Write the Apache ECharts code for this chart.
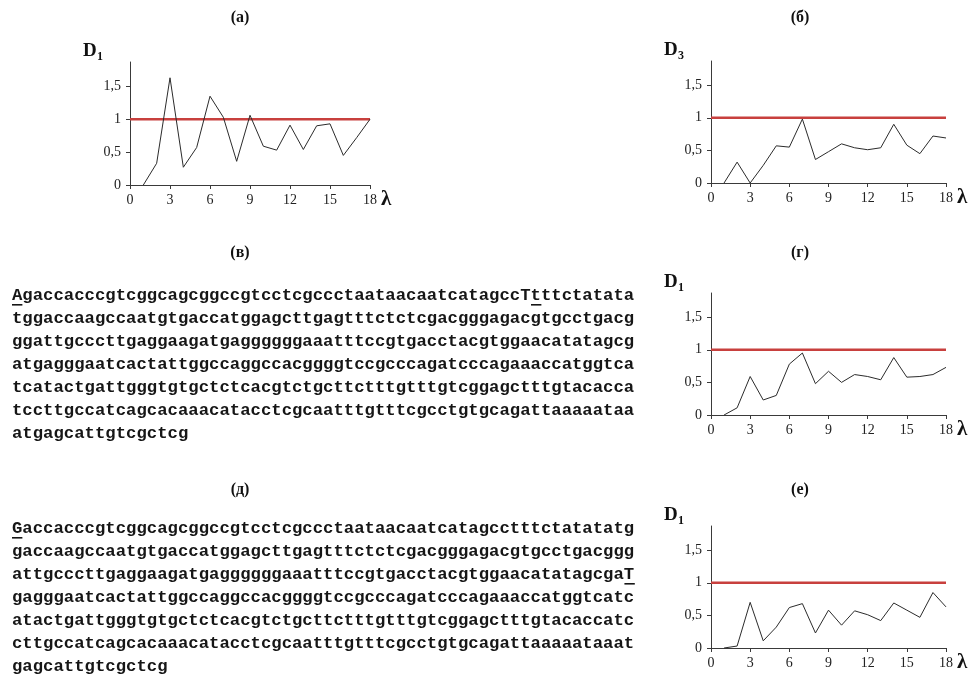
<!DOCTYPE html>
<html>
<head>
<meta charset="utf-8">
<script src="https://cdn.jsdelivr.net/npm/echarts@6/dist/echarts.min.js"></script>
<style>
html,body{margin:0;padding:0;background:#fff;}
#main{width:973px;height:684px;}
</style>
</head>
<body>
<div id="main"></div>
<script>
// λ values and the D values of the four panels
const lambda = [1, 2, 3, 4, 5, 6, 7, 8, 9, 10, 11, 12, 13, 14, 15, 16, 17, 18];
const dA = [0, 0.33, 1.63, 0.27, 0.57, 1.35, 1.03, 0.36, 1.06, 0.59, 0.53, 0.91, 0.54, 0.9, 0.93, 0.45, 0.72, 1.0];
const dB = [0, 0.32, 0, 0.27, 0.57, 0.55, 0.98, 0.36, 0.48, 0.6, 0.54, 0.51, 0.54, 0.9, 0.58, 0.45, 0.72, 0.69];
const dG = [0, 0.11, 0.59, 0.23, 0.3, 0.78, 0.95, 0.48, 0.67, 0.5, 0.62, 0.59, 0.54, 0.88, 0.58, 0.59, 0.62, 0.73];
const dE = [0, 0.03, 0.7, 0.11, 0.32, 0.62, 0.68, 0.23, 0.58, 0.35, 0.57, 0.51, 0.42, 0.69, 0.58, 0.47, 0.85, 0.63];
const threshold = 1;
const xMin = 0, xMax = 18, xStep = 3;
const yTicks = [0, 0.5, 1, 1.5];

// sequences (в) and (д)
const seqV = [
  'AgaccacccgtcggcagcggccgtcctcgccctaataacaatcatagccTtttctatata',
  'tggaccaagccaatgtgaccatggagcttgagtttctctcgacgggagacgtgcctgacg',
  'ggattgcccttgaggaagatgaggggggaaatttccgtgacctacgtggaacatatagcg',
  'atgagggaatcactattggccaggccacggggtccgcccagatcccagaaaccatggtca',
  'tcatactgattgggtgtgctctcacgtctgcttctttgtttgtcggagctttgtacacca',
  'tccttgccatcagcacaaacatacctcgcaatttgtttcgcctgtgcagattaaaaataa',
  'atgagcattgtcgctcg'
];
const seqD = [
  'Gaccacccgtcggcagcggccgtcctcgccctaataacaatcatagcctttctatatatg',
  'gaccaagccaatgtgaccatggagcttgagtttctctcgacgggagacgtgcctgacggg',
  'attgcccttgaggaagatgaggggggaaatttccgtgacctacgtggaacatatagcgaT',
  'gagggaatcactattggccaggccacggggtccgcccagatcccagaaaccatggtcatc',
  'atactgattgggtgtgctctcacgtctgcttctttgtttgtcggagctttgtacaccatc',
  'cttgccatcagcacaaacatacctcgcaatttgtttcgcctgtgcagattaaaaataaat',
  'gagcattgtcgctcg'
];
// underlined letters: [line, column]
const markV = [[0, 0], [0, 50]];
const markD = [[0, 0], [2, 59]];

const panels = [
  { title: '(а)', sub: '1', data: dA, left: 130, top: 62, width: 240, height: 123, tx: 240, ty: 18 },
  { title: '(б)', sub: '3', data: dB, left: 711, top: 61, width: 235, height: 122, tx: 800, ty: 18 },
  { title: '(г)', sub: '1', data: dG, left: 711, top: 293, width: 235, height: 122, tx: 800, ty: 253 },
  { title: '(е)', sub: '1', data: dE, left: 711, top: 526, width: 235, height: 122, tx: 800, ty: 490 }
];

const serif = '"Liberation Serif","Times New Roman",serif';
const mono = '"Liberation Mono","Courier New",monospace';
const axisCol = '#3a3a3a';

let myChart = echarts.init(document.getElementById('main'));

const grid = [], xAxis = [], yAxis = [], series = [], graphic = [];
panels.forEach((p, i) => {
  grid.push({ left: p.left, top: p.top, width: p.width, height: p.height, show: false });
  xAxis.push({
    type: 'value', gridIndex: i, min: xMin, max: xMax, interval: xStep,
    name: 'λ', nameLocation: 'end', nameGap: 9,
    nameTextStyle: { fontFamily: serif, fontWeight: 'bold', fontSize: 21, color: '#111', verticalAlign: 'top', padding: [4, 0, 0, 0] },
    axisLine: { lineStyle: { color: axisCol, width: 1 } },
    axisTick: { show: true, inside: false, length: 4, lineStyle: { color: axisCol } },
    axisLabel: { fontFamily: serif, fontSize: 14, color: '#222', margin: 8 },
    splitLine: { show: false }
  });
  yAxis.push({
    type: 'value', gridIndex: i, min: 0, max: 1.87,
    axisLine: { show: true, lineStyle: { color: axisCol, width: 1 } },
    axisTick: { show: true, length: 4, customValues: yTicks, lineStyle: { color: axisCol } },
    axisLabel: {
      fontFamily: serif, fontSize: 14, color: '#222', margin: 9, customValues: yTicks,
      formatter: v => String(v).replace('.', ',')
    },
    splitLine: { show: false }
  });
  series.push({
    type: 'line', xAxisIndex: i, yAxisIndex: i, symbol: 'none', z: 3,
    data: lambda.map((x, k) => [x, p.data[k]]),
    lineStyle: { color: '#2b2b2b', width: 1 }
  });
  series.push({
    type: 'line', xAxisIndex: i, yAxisIndex: i, symbol: 'none', z: 2,
    data: [[xMin, threshold], [xMax, threshold]],
    lineStyle: { color: '#c8403e', width: 2.6 }
  });
  // panel title
  graphic.push({ type: 'text', x: p.tx, y: p.ty, style: { text: p.title, font: 'bold 16px ' + serif, fill: '#111', align: 'center', verticalAlign: 'middle' } });
  // D with subscript
  graphic.push({ type: 'text', x: p.left - 47, y: p.top - 11, style: { text: 'D', font: 'bold 19px ' + serif, fill: '#111', align: 'left', verticalAlign: 'middle' } });
  graphic.push({ type: 'text', x: p.left - 33, y: p.top - 5, style: { text: p.sub, font: 'bold 12px ' + serif, fill: '#111', align: 'left', verticalAlign: 'middle' } });
});

// sequence blocks
const cw = 10.38, seqLeft = 12, lineH = 23;
function addSeq(lines, marks, y0, title, ty) {
  graphic.push({ type: 'text', x: 240, y: ty, style: { text: title, font: 'bold 16px ' + serif, fill: '#111', align: 'center', verticalAlign: 'middle' } });
  lines.forEach((s, i) => {
    graphic.push({ type: 'text', x: seqLeft, y: y0 + i * lineH, style: { text: s, font: 'bold 17.3px ' + mono, fill: '#161616', align: 'left', verticalAlign: 'middle' } });
  });
  marks.forEach(m => {
    graphic.push({ type: 'rect', shape: { x: seqLeft + m[1] * cw, y: y0 + m[0] * lineH + 8, width: cw, height: 1.6 }, style: { fill: '#161616' } });
  });
}
addSeq(seqV, markV, 296, '(в)', 253);
addSeq(seqD, markD, 529, '(д)', 490);

myChart.setOption({
  animation: false,
  backgroundColor: '#fff',
  grid: grid,
  xAxis: xAxis,
  yAxis: yAxis,
  series: series,
  graphic: graphic
});
window.addEventListener('resize', function () { myChart.resize(); });
</script>
</body>
</html>
